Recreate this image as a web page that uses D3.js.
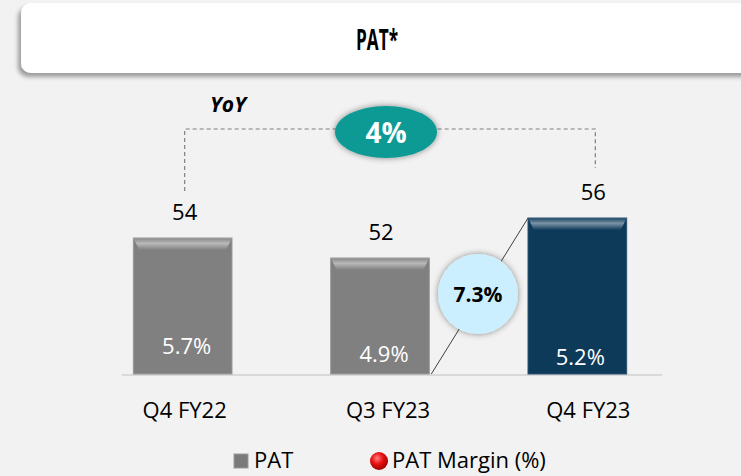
<!DOCTYPE html>
<html>
<head>
<meta charset="utf-8">
<script src="https://cdn.jsdelivr.net/npm/d3@7/dist/d3.min.js"></script>
<style>
  body { margin: 0; background: #f2f2f2; }
  svg { display: block; font-family: "Open Sans", "Noto Sans", sans-serif; }
</style>
</head>
<body>
<svg id="chart" width="741" height="476"></svg>
<script>
  var categories = ['Q4 FY22', 'Q3 FY23', 'Q4 FY23'];
  var patValues = [54, 52, 56];
  var marginLabels = ['5.7%', '4.9%', '5.2%'];
  var yoyLabel = '4%';
  var qoqLabel = '7.3%';

  var width = 741, height = 476;
  var baseY = 374;
  var svg = d3.select('#chart');

  var defs = svg.append('defs');
  var sh = defs.append('filter').attr('id', 'shadow').attr('x', '-20%').attr('y', '-20%').attr('width', '140%').attr('height', '160%');
  sh.append('feDropShadow').attr('dx', -3).attr('dy', 4).attr('stdDeviation', 2).attr('flood-color', '#000').attr('flood-opacity', 0.35);
  var glow = defs.append('filter').attr('id', 'glow').attr('x', '-30%').attr('y', '-30%').attr('width', '160%').attr('height', '160%');
  glow.append('feDropShadow').attr('dx', 0).attr('dy', 0).attr('stdDeviation', 3).attr('flood-color', '#000').attr('flood-opacity', 0.45);

  // bevel highlight for bar tops
  var bev = defs.append('linearGradient').attr('id', 'bevel').attr('x1', 0).attr('y1', 0).attr('x2', 0).attr('y2', 1);
  bev.append('stop').attr('offset', '0%').attr('stop-color', '#fff').attr('stop-opacity', 0.05);
  bev.append('stop').attr('offset', '45%').attr('stop-color', '#fff').attr('stop-opacity', 0.45);
  bev.append('stop').attr('offset', '100%').attr('stop-color', '#fff').attr('stop-opacity', 0);

  // title box
  svg.append('rect')
    .attr('x', 21).attr('y', 3).attr('width', 740).attr('height', 70)
    .attr('rx', 10).attr('fill', '#fff').attr('filter', 'url(#shadow)');
  svg.append('text')
    .attr('x', 377).attr('y', 50).attr('text-anchor', 'middle')
    .attr('font-size', 28).attr('font-weight', 'bold').attr('fill', '#000')
    .attr('textLength', 42).attr('lengthAdjust', 'spacingAndGlyphs')
    .text('PAT*');

  var x = d3.scaleBand().domain(categories).range([84, 676]).paddingInner(0.5).paddingOuter(0.25);
  var y = d3.scaleLinear().domain([40.4, 60]).range([baseY, 178]);

  // baseline
  svg.append('line')
    .attr('x1', 122).attr('x2', 662).attr('y1', baseY + 1).attr('y2', baseY + 1)
    .attr('stroke', '#d9d9d9').attr('stroke-width', 2);

  var barColors = ['#808080', '#808080', '#0e3a5a'];
  var valueDx = [2, 1, 16];
  var marginDx = [4, 4, 3];
  var marginY = [354, 362, 365];
  var catDx = [2, 8, 11];

  var bars = svg.selectAll('g.bar').data(patValues).enter().append('g').attr('class', 'bar');

  bars.append('rect')
    .attr('x', function(d, i) { return x(categories[i]); })
    .attr('y', function(d) { return y(d); })
    .attr('width', x.bandwidth())
    .attr('height', function(d) { return baseY - y(d); })
    .attr('fill', function(d, i) { return barColors[i]; })
    .attr('stroke', function(d, i) { return i === 2 ? '#2a5270' : '#9a9a9a'; })
    .attr('stroke-width', 1);

  bars.append('path')
    .attr('d', function(d, i) {
      var x0 = x(categories[i]), x1 = x0 + x.bandwidth(), t = y(d);
      return 'M' + x0 + ',' + t + 'L' + x1 + ',' + t + 'L' + (x1 - 6) + ',' + (t + 12) + 'L' + (x0 + 6) + ',' + (t + 12) + 'Z';
    })
    .attr('fill', 'url(#bevel)');

  bars.append('text')
    .attr('x', function(d, i) { return x(categories[i]) + x.bandwidth() / 2 + valueDx[i]; })
    .attr('y', function(d) { return y(d) - 18; })
    .attr('text-anchor', 'middle').attr('font-size', 22).attr('fill', '#000')
    .text(function(d) { return d; });

  bars.append('text')
    .attr('x', function(d, i) { return x(categories[i]) + x.bandwidth() / 2 + marginDx[i]; })
    .attr('y', function(d, i) { return marginY[i]; })
    .attr('text-anchor', 'middle').attr('font-size', 22).attr('fill', '#fff')
    .text(function(d, i) { return marginLabels[i]; });

  // category labels
  svg.selectAll('text.cat').data(categories).enter().append('text')
    .attr('class', 'cat')
    .attr('x', function(d, i) { return x(d) + x.bandwidth() / 2 + catDx[i]; })
    .attr('y', 418).attr('text-anchor', 'middle').attr('font-size', 22).attr('fill', '#000')
    .text(function(d) { return d; });

  // YoY bracket
  var xl = x(categories[0]) + x.bandwidth() / 2 + 2;
  var xr = x(categories[2]) + x.bandwidth() / 2 + 18;
  svg.append('path')
    .attr('d', 'M' + xl + ',' + (y(patValues[0]) - 47) + 'V129H' + xr + 'V' + (y(patValues[2]) - 50))
    .attr('fill', 'none').attr('stroke', '#7f7f7f').attr('stroke-width', 1.2).attr('stroke-dasharray', '4,3');
  svg.append('text')
    .attr('x', 228).attr('y', 112).attr('text-anchor', 'middle')
    .attr('font-size', 21).attr('font-weight', 'bold').attr('font-style', 'italic').attr('fill', '#000')
    .text('YoY');
  svg.append('ellipse')
    .attr('cx', 386).attr('cy', 132).attr('rx', 51).attr('ry', 26)
    .attr('fill', '#0a9a94').attr('filter', 'url(#glow)');
  svg.append('text')
    .attr('x', 386).attr('y', 143).attr('text-anchor', 'middle')
    .attr('font-size', 28).attr('font-weight', 'bold').attr('fill', '#fff')
    .text(yoyLabel);

  // QoQ connector
  svg.append('line')
    .attr('x1', x(categories[1]) + x.bandwidth() + 2).attr('y1', baseY)
    .attr('x2', x(categories[2])).attr('y2', y(patValues[2]))
    .attr('stroke', '#404040').attr('stroke-width', 1);
  svg.append('circle')
    .attr('cx', 478).attr('cy', 294).attr('r', 40)
    .attr('fill', '#ccefff').attr('filter', 'url(#glow)');
  svg.append('text')
    .attr('x', 478).attr('y', 302).attr('text-anchor', 'middle')
    .attr('font-size', 21).attr('font-weight', 'bold').attr('fill', '#000')
    .text(qoqLabel);

  // legend
  var rg = defs.append('radialGradient').attr('id', 'redball').attr('cx', '40%').attr('cy', '35%').attr('r', '65%');
  rg.append('stop').attr('offset', '0%').attr('stop-color', '#ff8080');
  rg.append('stop').attr('offset', '50%').attr('stop-color', '#e81010');
  rg.append('stop').attr('offset', '100%').attr('stop-color', '#a00000');
  svg.append('rect').attr('x', 234).attr('y', 454).attr('width', 14).attr('height', 14)
    .attr('fill', '#7a7a7a').attr('stroke', '#9a9a9a');
  svg.append('text').attr('x', 254).attr('y', 468).attr('font-size', 22).attr('fill', '#000').text('PAT');
  svg.append('circle').attr('cx', 379).attr('cy', 461).attr('r', 9).attr('fill', 'url(#redball)');
  svg.append('text').attr('x', 392).attr('y', 468).attr('font-size', 22).attr('fill', '#000').text('PAT Margin (%)');
</script>
</body>
</html>
